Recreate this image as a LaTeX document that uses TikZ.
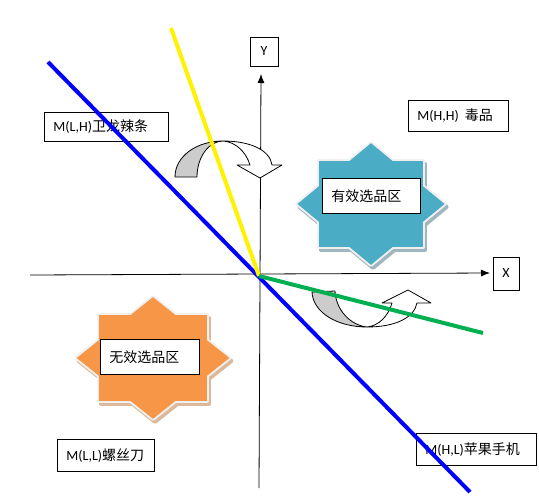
\documentclass[tikz,border=0pt]{standalone}
\usepackage{fontspec}
\setmainfont{Carlito}
\newfontfamily\cjk{Noto Sans CJK SC}
\usetikzlibrary{arrows.meta}
\definecolor{starteal}{HTML}{4BACC6}
\definecolor{starorange}{HTML}{F79646}
\definecolor{tealshade}{HTML}{9FB6BE}
\definecolor{orangeshade}{HTML}{DDB99C}
\definecolor{linegreen}{HTML}{00B050}

% 8-point star: centre x, centre y, half width, half height, fill, shadow
\newcommand{\octstar}[6]{%
  \begin{scope}[shift={(#1,#2)}, line join=round]
    \filldraw[#6, line width=4pt, shift={(2,3)}] (-#3,-#4) rectangle (#3,#4);
    \filldraw[#6, line width=4pt, shift={(2,3)}] (-1.414*#3,0) -- (0,-1.414*#4) -- (1.414*#3,0) -- (0,1.414*#4) -- cycle;
    \draw[gray!12, line width=4pt] (-#3,-#4) rectangle (#3,#4);
    \draw[gray!12, line width=4pt] (-1.414*#3,0) -- (0,-1.414*#4) -- (1.414*#3,0) -- (0,1.414*#4) -- cycle;
    \fill[#5] (-#3,-#4) rectangle (#3,#4);
    \fill[#5] (-1.414*#3,0) -- (0,-1.414*#4) -- (1.414*#3,0) -- (0,1.414*#4) -- cycle;
  \end{scope}}

\begin{document}
\begin{tikzpicture}[x=1pt, y=-1pt,
    every node/.style={font=\fontsize{14}{16}\selectfont},
    lbox/.style={draw, fill=white, line width=0.8pt, inner xsep=9pt, inner ysep=0pt, align=left, anchor=north west},
    axisbox/.style={draw, line width=0.8pt, inner sep=0pt},
    axis/.style={line width=0.8pt, -{Latex[length=9pt,width=7pt]}},
    curvearrow/.style={draw=black, line width=0.8pt, line join=round}
  ]
  \useasboundingbox (0,0) rectangle (539,496);

  % stars for the two regions
  \octstar{371}{204}{52}{43}{starteal}{tealshade}
  \octstar{153}{358}{54}{43}{starorange}{orangeshade}

  % region labels
  \node[lbox, text width=80pt, minimum height=35pt] (valid) at (322,178) {\cjk 有效选品区};
  \node[lbox, text width=81pt, minimum height=35pt] (invalid) at (100,339) {\cjk 无效选品区};

  % quadrant labels
  \node[lbox, text width=106pt, minimum height=29pt] (mlh) at (44,112) {M(L,H){\cjk 卫龙辣条}};
  \node[lbox, text width=82pt, minimum height=31pt] (mhh) at (408,100) {M(H,H)\hspace{6pt}{\cjk 毒品}};
  \node[lbox, text width=79pt, minimum height=32pt] (mll) at (57,439) {M(L,L){\cjk 螺丝刀}};
  \node[lbox, text width=102pt, minimum height=32pt] (mhl) at (416,433) {M(H,L){\cjk 苹果手机}};

  % axes
  \node[axisbox, minimum width=28pt, minimum height=29pt] (ylab) at (264,51.5) {Y};
  \node[axisbox, minimum width=26pt, minimum height=33pt] (xlab) at (506,273.5) {X};
  \coordinate (xleft) at (30,275);
  \coordinate (xright) at (490,273);
  \coordinate (ybot) at (259,488);
  \coordinate (ytop) at (261,74);
  \draw[axis] (xleft) -- (xright);
  \draw[axis] (ybot) -- (ytop);

  % curved arrows
  \filldraw[curvearrow, fill=gray!40] (175,177) .. controls (175,156) and (197,141) .. (223,141)
    .. controls (209,141) and (197,157) .. (197,177) -- cycle;
  \filldraw[curvearrow, fill=white] (223,141) .. controls (250,141) and (270,150) .. (272,165)
    -- (282,165) -- (260,178) -- (237,165) -- (250,165)
    .. controls (246,152) and (236,142) .. (223,141) -- cycle;
  \filldraw[curvearrow, fill=gray!40] (312,292) .. controls (313,313) and (338,327) .. (367,327)
    .. controls (350,325) and (336,310) .. (335,291) -- cycle;
  \filldraw[curvearrow, fill=white] (367,327) .. controls (395,327) and (414,318) .. (417,303)
    -- (431,303) -- (408,290) -- (382,303) -- (392,303)
    .. controls (388,317) and (378,326) .. (367,327) -- cycle;

  % dividing lines
  \coordinate (o) at (259,276);
  \coordinate (bluetop) at (48,62);
  \coordinate (bluebot) at (470,492);
  \coordinate (yellowtop) at (171,28);
  \coordinate (greenend) at (483,333);
  \draw[blue, line width=4pt] (bluetop) -- (bluebot);
  \draw[yellow, line width=4pt] (yellowtop) -- (o);
  \draw[linegreen, line width=4pt] (o) -- (greenend);
\end{tikzpicture}
\end{document}
